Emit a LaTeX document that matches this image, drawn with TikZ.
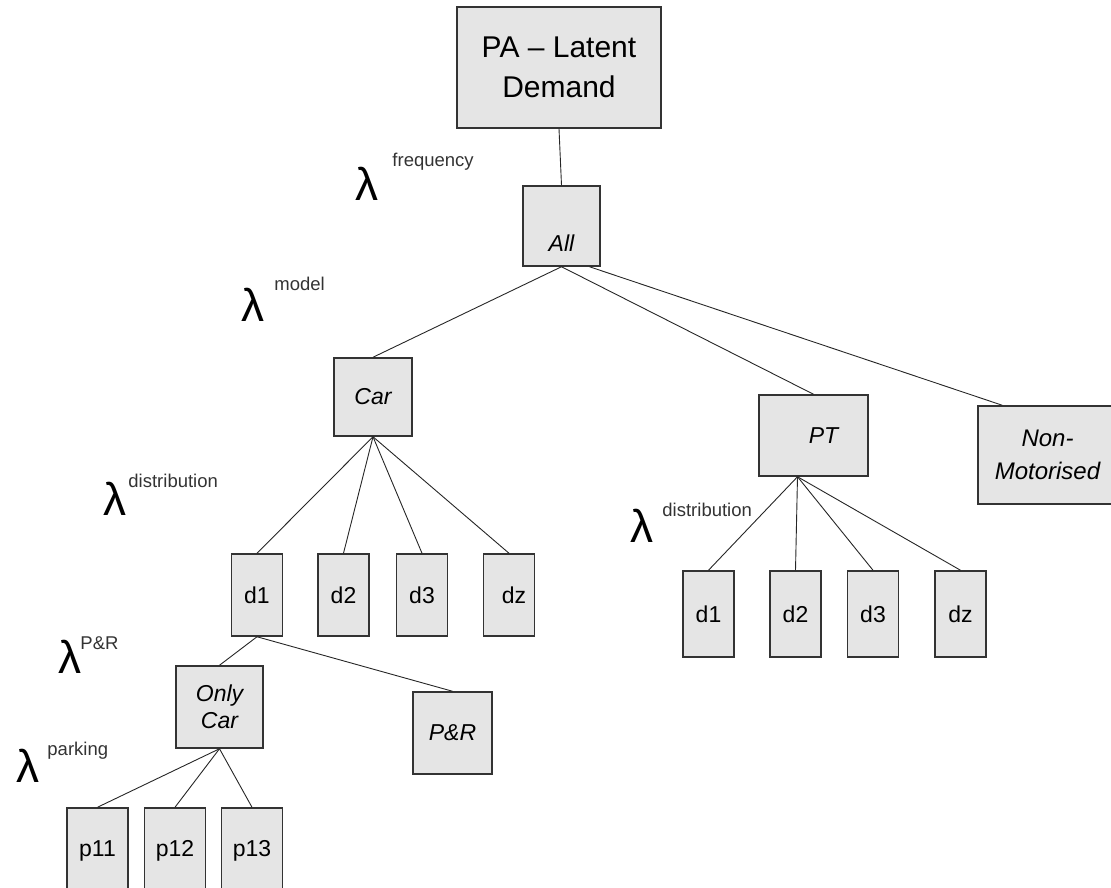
\documentclass[tikz,border=0pt]{standalone}
\usepackage{fontspec}
\setmainfont{Liberation Sans}

\tikzset{
  box/.style={draw=black!80, fill=black!10, line width=1.5pt, inner sep=0pt, align=center, font=\fontsize{23}{27}\selectfont},
  cat/.style={box, font=\fontsize{23}{27}\selectfont\itshape},
  dbox/.style={box, minimum width=51pt, minimum height=82pt},
  pbox/.style={box, minimum width=61pt, minimum height=86pt},
  lam/.style={anchor=base west, inner sep=0pt, font=\fontsize{46}{46}\selectfont},
  lamtext/.style={anchor=base west, inner sep=0pt, text=black!80, font=\fontsize{18.5}{20}\selectfont},
}

\begin{document}
\begin{tikzpicture}[x=1pt, y=-1pt, line width=0.9pt, draw=black!85]
    \useasboundingbox (0,0) rectangle (1111,888);
    \clip (0,0) rectangle (1111,888);

    \node[box, minimum width=204pt, minimum height=121pt, font=\fontsize{30}{40}\selectfont] (pa) at (559, 67.5) {PA -- Latent\\Demand};
    \node[cat, minimum width=77pt, text height=65pt, text depth=15pt] (all) at (561.5, 226) {All};

    \node[cat, minimum width=78pt, minimum height=78pt] (car) at (373, 397) {Car};
    \node[cat, minimum width=109pt, minimum height=81pt] (pt) at (813.5, 435.5) {\hspace*{20pt}PT};
    \node[cat, minimum width=139pt, minimum height=98pt, font=\fontsize{24}{33}\selectfont\itshape] (nm) at (1047.5, 455) {Non-\\Motorised};

    \node[dbox] (cd1) at (257, 595) {d1};
    \node[dbox] (cd2) at (343.5, 595) {d2};
    \node[dbox] (cd3) at (422, 595) {d3};
    \node[dbox] (cdz) at (509, 595) {\hspace*{10pt}dz};

    \node[dbox, minimum height=86pt] (pd1) at (708.5, 614) {d1};
    \node[dbox, minimum height=86pt] (pd2) at (795.5, 614) {d2};
    \node[dbox, minimum height=86pt] (pd3) at (873, 614) {d3};
    \node[dbox, minimum height=86pt] (pdz) at (960.5, 614) {dz};

    \node[cat, minimum width=87pt, minimum height=82pt] (oc) at (219.5, 707) {Only\\Car};
    \node[cat, minimum width=79pt, minimum height=82pt] (pr) at (452.5, 733) {P\&R};

    \node[pbox] (p11) at (97.5, 851) {p11};
    \node[pbox] (p12) at (175, 851) {p12};
    \node[pbox] (p13) at (252, 851) {p13};

    % lambda labels
    \node[lam] (lfreq) at (355, 200) {λ};
    \node[lamtext] (tfreq) at (392, 166) {frequency};
    \node[lam] (lmode) at (241, 321) {λ};
    \node[lamtext] (tmode) at (274, 290) {model};
    \node[lam] (ldist) at (103, 515) {λ};
    \node[lamtext] (tdist) at (128, 487) {distribution};
    \node[lam] (lptdist) at (630, 542) {λ};
    \node[lamtext] (tptdist) at (662, 516) {distribution};
    \node[lam] (lpr) at (58, 673) {λ};
    \node[lamtext] (tpr) at (80, 649) {P\&R};
    \node[lam] (lpark) at (16, 782) {λ};
    \node[lamtext] (tpark) at (47, 755) {parking};

    \draw (pa.south) -- (all.north);
    \draw (all.south) -- (car.north);
    \draw (all.south) -- (pt.north);
    \draw ([xshift=28pt]all.south) -- ([xshift=25pt]nm.north west);

    \draw (car.south) -- (cd1.north);
    \draw (car.south) -- (cd2.north);
    \draw (car.south) -- (cd3.north);
    \draw (car.south) -- (cdz.north);

    \draw ([xshift=-16pt]pt.south) -- (pd1.north);
    \draw ([xshift=-16pt]pt.south) -- (pd2.north);
    \draw ([xshift=-16pt]pt.south) -- (pd3.north);
    \draw ([xshift=-16pt]pt.south) -- (pdz.north);

    \draw (cd1.south) -- (oc.north);
    \draw (cd1.south) -- (pr.north);

    \draw (oc.south) -- (p11.north);
    \draw (oc.south) -- (p12.north);
    \draw (oc.south) -- (p13.north);
\end{tikzpicture}
\end{document}
